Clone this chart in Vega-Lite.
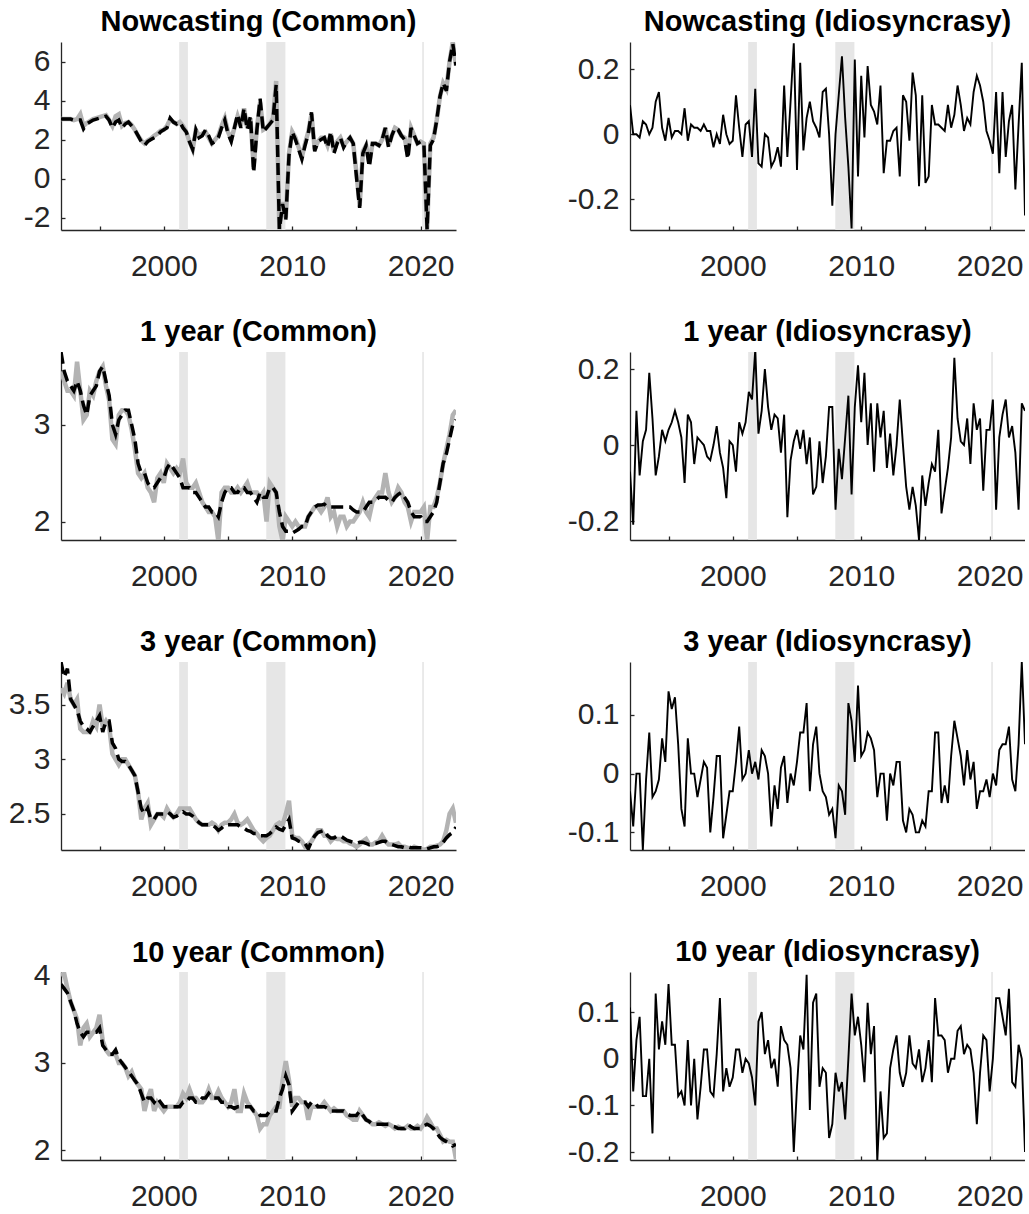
{
"$schema":"https://vega.github.io/schema/vega-lite/v6.json",
"background":"white",
"padding":{"left":5,"top":8,"right":0,"bottom":0},
"config":{
 "view":{"stroke":null},
 "font":"Liberation Sans",
 "axis":{"domainColor":"#262626","domainWidth":1.3,"tickColor":"#262626","tickWidth":1.3,"tickSize":-4,"labelColor":"#262626","labelFont":"Liberation Sans","labelFontSize":30,"grid":false,"labelFlush":false,"labelOverlap":false},
 "axisX":{"labelPadding":25},
 "axisY":{"labelPadding":15},
 "title":{"font":"Liberation Sans","fontSize":29,"fontWeight":"bold","color":"#000000","anchor":"middle","frame":"group","offset":5}
},
"datasets":{
"rec":[{"s":2001.2,"e":2001.88},{"s":2007.98,"e":2009.47},{"s":2020.12,"e":2020.25}],
"nc":[
{"t":1992,"g":3.05,"d":3.05,"i":0.09},{"t":1992.25,"g":3.05,"d":3.05,"i":0},{"t":1992.5,"g":3.05,"d":3.05,"i":0},{"t":1992.75,"g":3.05,"d":3.05,"i":-0.01},
{"t":1993,"g":3.0,"d":3.0,"i":0.04},{"t":1993.25,"g":3.05,"d":3.0,"i":0.03},{"t":1993.5,"g":3.3,"d":3.0,"i":0},{"t":1993.75,"g":2.7,"d":2.55,"i":0.02},
{"t":1994,"g":2.85,"d":2.8,"i":0.1},{"t":1994.25,"g":2.95,"d":2.9,"i":0.13},{"t":1994.5,"g":3.05,"d":3.0,"i":0.02},{"t":1994.75,"g":3.1,"d":3.05,"i":-0.02},
{"t":1995,"g":3.15,"d":3.1,"i":0.05},{"t":1995.25,"g":3.2,"d":3.15,"i":-0.01},{"t":1995.5,"g":3.25,"d":3.2,"i":0.01},{"t":1995.75,"g":3.0,"d":3.0,"i":0.01},
{"t":1996,"g":2.7,"d":2.6,"i":0},{"t":1996.25,"g":3.2,"d":2.9,"i":0.08},{"t":1996.5,"g":3.3,"d":3.0,"i":-0.02},{"t":1996.75,"g":2.7,"d":2.6,"i":0.03},
{"t":1997,"g":2.85,"d":2.8,"i":0.02},{"t":1997.25,"g":2.9,"d":2.9,"i":0.02},{"t":1997.5,"g":2.75,"d":2.7,"i":0.01},{"t":1997.75,"g":2.5,"d":2.5,"i":0.03},
{"t":1998,"g":2.2,"d":2.2,"i":0.01},{"t":1998.25,"g":1.95,"d":1.9,"i":0.01},{"t":1998.5,"g":1.8,"d":1.7,"i":-0.04},{"t":1998.75,"g":1.95,"d":1.9,"i":0},
{"t":1999,"g":2.05,"d":2.0,"i":-0.03},{"t":1999.25,"g":2.2,"d":2.1,"i":0.06},{"t":1999.5,"g":2.3,"d":2.2,"i":0},{"t":1999.75,"g":2.45,"d":2.4,"i":-0.03},
{"t":2000,"g":2.5,"d":2.5,"i":-0.02},{"t":2000.25,"g":2.7,"d":2.6,"i":0.12},{"t":2000.5,"g":3.05,"d":3.1,"i":0.02},{"t":2000.75,"g":2.9,"d":2.9,"i":-0.07},
{"t":2001,"g":2.8,"d":2.8,"i":0.03},{"t":2001.25,"g":2.9,"d":2.9,"i":0.04},{"t":2001.5,"g":2.7,"d":2.6,"i":-0.07},{"t":2001.75,"g":2.4,"d":2.4,"i":0.14},
{"t":2002,"g":1.9,"d":1.9,"i":-0.09},{"t":2002.25,"g":1.5,"d":1.5,"i":-0.1},{"t":2002.5,"g":2.5,"d":2.5,"i":0},{"t":2002.75,"g":2.2,"d":2.1,"i":-0.01},
{"t":2003,"g":2.3,"d":2.2,"i":-0.1},{"t":2003.25,"g":2.4,"d":2.5,"i":-0.08},{"t":2003.5,"g":2.1,"d":2.2,"i":-0.04},{"t":2003.75,"g":1.8,"d":1.8,"i":-0.1},
{"t":2004,"g":2.0,"d":1.9,"i":0.15},{"t":2004.25,"g":2.2,"d":2.1,"i":-0.07},{"t":2004.5,"g":2.7,"d":2.6,"i":0.1},{"t":2004.75,"g":3.1,"d":3.0,"i":0.28},
{"t":2005,"g":2.4,"d":2.3,"i":-0.11},{"t":2005.25,"g":2.0,"d":1.9,"i":0.22},{"t":2005.5,"g":2.6,"d":2.6,"i":-0.05},{"t":2005.75,"g":3.2,"d":3.3,"i":0.05},
{"t":2006,"g":2.7,"d":2.6,"i":0.1},{"t":2006.25,"g":3.6,"d":3.6,"i":0.04},{"t":2006.5,"g":2.6,"d":2.5,"i":0.02},{"t":2006.75,"g":3.1,"d":3.2,"i":-0.01},
{"t":2007,"g":0.6,"d":0.3,"i":0.13},{"t":2007.25,"g":2.6,"d":2.5,"i":0.14},{"t":2007.5,"g":3.9,"d":4.1,"i":0},{"t":2007.75,"g":2.5,"d":2.4,"i":-0.22},
{"t":2008,"g":2.6,"d":2.6,"i":0},{"t":2008.25,"g":2.8,"d":2.8,"i":0.12},{"t":2008.5,"g":3.1,"d":3.0,"i":0.24},{"t":2008.75,"g":5.0,"d":4.8,"i":0.05},
{"t":2009,"g":-2.6,"d":-2.6,"i":-0.1},{"t":2009.25,"g":-1.2,"d":-1.3,"i":-0.29},{"t":2009.5,"g":-2.0,"d":-2.1,"i":0.23},{"t":2009.75,"g":1.3,"d":1.2,"i":-0.13},
{"t":2010,"g":2.4,"d":2.4,"i":0.18},{"t":2010.25,"g":2.1,"d":2.0,"i":-0.01},{"t":2010.5,"g":1.6,"d":1.5,"i":0.21},{"t":2010.75,"g":1.1,"d":1.0,"i":0.09},
{"t":2011,"g":1.8,"d":1.7,"i":0.07},{"t":2011.25,"g":2.4,"d":2.3,"i":0.03},{"t":2011.5,"g":3.3,"d":3.4,"i":0.15},{"t":2011.75,"g":1.5,"d":1.4,"i":-0.12},
{"t":2012,"g":1.9,"d":1.9,"i":-0.02},{"t":2012.25,"g":2.1,"d":2.0,"i":-0.02},{"t":2012.5,"g":2.1,"d":2.1,"i":0.01},{"t":2012.75,"g":1.7,"d":1.6,"i":0.02},
{"t":2013,"g":2.3,"d":2.4,"i":-0.13},{"t":2013.25,"g":1.4,"d":1.3,"i":0.12},{"t":2013.5,"g":1.9,"d":1.8,"i":0.1},{"t":2013.75,"g":2.1,"d":2.1,"i":-0.02},
{"t":2014,"g":1.7,"d":1.6,"i":0.19},{"t":2014.25,"g":1.9,"d":1.9,"i":0.12},{"t":2014.5,"g":2.1,"d":2.1,"i":-0.16},{"t":2014.75,"g":1.8,"d":1.8,"i":0.12},
{"t":2015,"g":0.3,"d":0.1,"i":-0.15},{"t":2015.25,"g":-1.4,"d":-1.5,"i":-0.13},{"t":2015.5,"g":1.4,"d":1.3,"i":0.09},{"t":2015.75,"g":1.7,"d":1.7,"i":0.03},
{"t":2016,"g":0.8,"d":0.6,"i":0.03},{"t":2016.25,"g":1.8,"d":1.8,"i":0.02},{"t":2016.5,"g":1.8,"d":1.8,"i":0.01},{"t":2016.75,"g":1.7,"d":1.7,"i":0.09},
{"t":2017,"g":2.0,"d":2.0,"i":0.02},{"t":2017.25,"g":2.6,"d":2.6,"i":0.06},{"t":2017.5,"g":1.7,"d":1.6,"i":0.15},{"t":2017.75,"g":2.2,"d":2.2,"i":0.09},
{"t":2018,"g":2.6,"d":2.6,"i":0.01},{"t":2018.25,"g":2.5,"d":2.5,"i":0.05},{"t":2018.5,"g":2.2,"d":2.2,"i":0.03},{"t":2018.75,"g":2.1,"d":2.0,"i":0.13},
{"t":2019,"g":1.2,"d":1.0,"i":0.18},{"t":2019.25,"g":2.6,"d":2.6,"i":0.15},{"t":2019.5,"g":2.2,"d":2.2,"i":0.1},{"t":2019.75,"g":1.8,"d":1.8,"i":0.01},
{"t":2020,"g":1.9,"d":1.9,"i":-0.02},{"t":2020.25,"g":1.8,"d":1.8,"i":-0.06},{"t":2020.5,"g":-2.6,"d":-2.6,"i":0.13},{"t":2020.75,"g":1.8,"d":1.7,"i":-0.12},
{"t":2021,"g":2.1,"d":2.0,"i":0.13},{"t":2021.25,"g":3.0,"d":3.0,"i":-0.07},{"t":2021.5,"g":4.2,"d":4.2,"i":0.04},{"t":2021.75,"g":4.9,"d":4.9,"i":0.09},
{"t":2022,"g":4.6,"d":4.5,"i":-0.17},{"t":2022.25,"g":6.0,"d":6.0,"i":0.03},{"t":2022.5,"g":7.0,"d":6.9,"i":0.22},{"t":2022.75,"g":5.8,"d":5.8,"i":-0.25}
],
"y1":[
{"t":1992,"g":3.55,"d":3.75,"i":-0.07},{"t":1992.25,"g":3.45,"d":3.55,"i":-0.21},{"t":1992.5,"g":3.35,"d":3.45,"i":0.09},{"t":1992.75,"g":3.35,"d":3.4,"i":-0.08},
{"t":1993,"g":3.3,"d":3.35,"i":0.01},{"t":1993.25,"g":3.65,"d":3.45,"i":0.04},{"t":1993.5,"g":3.35,"d":3.35,"i":0.19},{"t":1993.75,"g":3.05,"d":3.2,"i":0.07},
{"t":1994,"g":3.1,"d":3.1,"i":-0.08},{"t":1994.25,"g":3.35,"d":3.3,"i":-0.03},{"t":1994.5,"g":3.3,"d":3.35,"i":0.04},{"t":1994.75,"g":3.45,"d":3.4,"i":0.01},
{"t":1995,"g":3.55,"d":3.55,"i":0.04},{"t":1995.25,"g":3.6,"d":3.6,"i":0.06},{"t":1995.5,"g":3.4,"d":3.45,"i":0.09},{"t":1995.75,"g":3.25,"d":3.3,"i":0.06},
{"t":1996,"g":2.85,"d":3.0,"i":0.02},{"t":1996.25,"g":2.8,"d":2.9,"i":-0.1},{"t":1996.5,"g":3.1,"d":3.05,"i":0.08},{"t":1996.75,"g":3.15,"d":3.1,"i":0.06},
{"t":1997,"g":3.15,"d":3.15,"i":-0.05},{"t":1997.25,"g":3.1,"d":3.15,"i":0.02},{"t":1997.5,"g":2.95,"d":3.0,"i":0.01},{"t":1997.75,"g":2.75,"d":2.85,"i":0},
{"t":1998,"g":2.5,"d":2.6,"i":-0.03},{"t":1998.25,"g":2.45,"d":2.5,"i":-0.04},{"t":1998.5,"g":2.5,"d":2.5,"i":0},{"t":1998.75,"g":2.35,"d":2.4,"i":0.05},
{"t":1999,"g":2.3,"d":2.35,"i":-0.02},{"t":1999.25,"g":2.2,"d":2.35,"i":-0.06},{"t":1999.5,"g":2.45,"d":2.4,"i":-0.14},{"t":1999.75,"g":2.5,"d":2.45,"i":0.01},
{"t":2000,"g":2.4,"d":2.45,"i":0},{"t":2000.25,"g":2.6,"d":2.55,"i":-0.07},{"t":2000.5,"g":2.55,"d":2.6,"i":0.06},{"t":2000.75,"g":2.5,"d":2.55,"i":0.03},
{"t":2001,"g":2.55,"d":2.5,"i":0.06},{"t":2001.25,"g":2.5,"d":2.45,"i":0.14},{"t":2001.5,"g":2.65,"d":2.35,"i":0.12},{"t":2001.75,"g":2.4,"d":2.35,"i":0.25},
{"t":2002,"g":2.35,"d":2.35,"i":0.03},{"t":2002.25,"g":2.35,"d":2.3,"i":0.09},{"t":2002.5,"g":2.4,"d":2.3,"i":0.2},{"t":2002.75,"g":2.3,"d":2.25,"i":0.1},
{"t":2003,"g":2.2,"d":2.2,"i":0.04},{"t":2003.25,"g":2.15,"d":2.15,"i":0.08},{"t":2003.5,"g":2.1,"d":2.15,"i":0.07},{"t":2003.75,"g":2.1,"d":2.1,"i":-0.02},
{"t":2004,"g":2.05,"d":2.1,"i":0.08},{"t":2004.25,"g":1.8,"d":2.05,"i":-0.19},{"t":2004.5,"g":2.3,"d":2.2,"i":-0.04},{"t":2004.75,"g":2.35,"d":2.3,"i":0.01},
{"t":2005,"g":2.35,"d":2.35,"i":0.04},{"t":2005.25,"g":2.3,"d":2.35,"i":-0.01},{"t":2005.5,"g":2.3,"d":2.3,"i":0.04},{"t":2005.75,"g":2.35,"d":2.3,"i":-0.05},
{"t":2006,"g":2.3,"d":2.35,"i":0.02},{"t":2006.25,"g":2.35,"d":2.35,"i":-0.13},{"t":2006.5,"g":2.4,"d":2.3,"i":-0.11},{"t":2006.75,"g":2.3,"d":2.3,"i":0.01},
{"t":2007,"g":2.3,"d":2.25,"i":-0.1},{"t":2007.25,"g":2.3,"d":2.2,"i":-0.03},{"t":2007.5,"g":2.25,"d":2.3,"i":0.1},{"t":2007.75,"g":2.3,"d":2.25,"i":0.1},
{"t":2008,"g":2.0,"d":2.25,"i":-0.17},{"t":2008.25,"g":2.4,"d":2.35,"i":-0.01},{"t":2008.5,"g":2.35,"d":2.35,"i":-0.09},{"t":2008.75,"g":2.3,"d":2.3,"i":0.02},
{"t":2009,"g":1.95,"d":2.1,"i":0.13},{"t":2009.25,"g":1.8,"d":1.95,"i":-0.13},{"t":2009.5,"g":2.05,"d":1.9,"i":0.1},{"t":2009.75,"g":2.0,"d":1.9,"i":0.21},
{"t":2010,"g":1.95,"d":1.88,"i":0.06},{"t":2010.25,"g":2.0,"d":1.9,"i":0.19},{"t":2010.5,"g":1.95,"d":1.92,"i":0},{"t":2010.75,"g":1.95,"d":1.95,"i":0.11},
{"t":2011,"g":1.95,"d":1.95,"i":-0.07},{"t":2011.25,"g":2.05,"d":2.05,"i":0.11},{"t":2011.5,"g":2.1,"d":2.1,"i":0.02},{"t":2011.75,"g":2.15,"d":2.15,"i":0.09},
{"t":2012,"g":2.15,"d":2.17,"i":-0.06},{"t":2012.25,"g":2.1,"d":2.17,"i":0.03},{"t":2012.5,"g":2.15,"d":2.18,"i":-0.08},{"t":2012.75,"g":2.25,"d":2.15,"i":0},
{"t":2013,"g":2.05,"d":2.15,"i":0.12},{"t":2013.25,"g":2.1,"d":2.15,"i":0},{"t":2013.5,"g":1.95,"d":2.15,"i":-0.11},{"t":2013.75,"g":2.05,"d":2.15,"i":-0.17},
{"t":2014,"g":2.05,"d":2.15,"i":-0.11},{"t":2014.25,"g":1.95,"d":2.15,"i":-0.16},{"t":2014.5,"g":2.0,"d":2.15,"i":-0.25},{"t":2014.75,"g":2.0,"d":2.12,"i":-0.08},
{"t":2015,"g":2.05,"d":2.1,"i":-0.16},{"t":2015.25,"g":2.1,"d":2.1,"i":-0.1},{"t":2015.5,"g":2.2,"d":2.1,"i":-0.05},{"t":2015.75,"g":2.1,"d":2.15,"i":-0.07},
{"t":2016,"g":2.05,"d":2.2,"i":0.04},{"t":2016.25,"g":2.2,"d":2.2,"i":-0.18},{"t":2016.5,"g":2.25,"d":2.22,"i":-0.12},{"t":2016.75,"g":2.3,"d":2.25,"i":-0.06},
{"t":2017,"g":2.3,"d":2.25,"i":0.02},{"t":2017.25,"g":2.5,"d":2.25,"i":0.23},{"t":2017.5,"g":2.3,"d":2.22,"i":0.07},{"t":2017.75,"g":2.2,"d":2.2,"i":0.01},
{"t":2018,"g":2.25,"d":2.25,"i":0},{"t":2018.25,"g":2.35,"d":2.28,"i":0.07},{"t":2018.5,"g":2.3,"d":2.3,"i":-0.05},{"t":2018.75,"g":2.2,"d":2.25,"i":0.11},
{"t":2019,"g":2.15,"d":2.2,"i":0.04},{"t":2019.25,"g":2.0,"d":2.1,"i":0.07},{"t":2019.5,"g":2.1,"d":2.05,"i":-0.12},{"t":2019.75,"g":2.1,"d":2.05,"i":0.04},
{"t":2020,"g":2.1,"d":2.05,"i":0.04},{"t":2020.25,"g":2.15,"d":2.0,"i":0.12},{"t":2020.5,"g":1.8,"d":2.0,"i":-0.17},{"t":2020.75,"g":2.15,"d":2.05,"i":0.02},
{"t":2021,"g":2.15,"d":2.1,"i":0.08},{"t":2021.25,"g":2.25,"d":2.2,"i":0.12},{"t":2021.5,"g":2.4,"d":2.4,"i":0.02},{"t":2021.75,"g":2.6,"d":2.6,"i":0.05},
{"t":2022,"g":2.75,"d":2.7,"i":-0.02},{"t":2022.25,"g":2.9,"d":2.85,"i":-0.17},{"t":2022.5,"g":3.1,"d":3.0,"i":0.11},{"t":2022.75,"g":3.15,"d":3.05,"i":0.09}
],
"y3":[
{"t":1992,"g":3.65,"d":3.89,"i":-0.03},{"t":1992.25,"g":3.6,"d":3.75,"i":-0.09},{"t":1992.5,"g":3.7,"d":3.83,"i":0},{"t":1992.75,"g":3.55,"d":3.55,"i":0},
{"t":1993,"g":3.5,"d":3.5,"i":-0.13},{"t":1993.25,"g":3.55,"d":3.45,"i":-0.01},{"t":1993.5,"g":3.28,"d":3.35,"i":0.07},{"t":1993.75,"g":3.25,"d":3.3,"i":-0.04},
{"t":1994,"g":3.25,"d":3.28,"i":-0.03},{"t":1994.25,"g":3.25,"d":3.25,"i":-0.01},{"t":1994.5,"g":3.35,"d":3.3,"i":0.06},{"t":1994.75,"g":3.3,"d":3.35,"i":0.02},
{"t":1995,"g":3.5,"d":3.4,"i":0.14},{"t":1995.25,"g":3.3,"d":3.25,"i":0.11},{"t":1995.5,"g":3.35,"d":3.35,"i":0.13},{"t":1995.75,"g":3.3,"d":3.35,"i":0.05},
{"t":1996,"g":3.05,"d":3.15,"i":-0.06},{"t":1996.25,"g":3.0,"d":3.1,"i":-0.09},{"t":1996.5,"g":2.95,"d":3.0,"i":0.06},{"t":1996.75,"g":3.0,"d":2.98,"i":0},
{"t":1997,"g":3.0,"d":2.98,"i":0},{"t":1997.25,"g":2.95,"d":2.95,"i":-0.04},{"t":1997.5,"g":2.9,"d":2.9,"i":-0.01},{"t":1997.75,"g":2.85,"d":2.85,"i":0.02},
{"t":1998,"g":2.7,"d":2.7,"i":0.01},{"t":1998.25,"g":2.45,"d":2.55,"i":-0.1},{"t":1998.5,"g":2.55,"d":2.5,"i":-0.04},{"t":1998.75,"g":2.6,"d":2.55,"i":0.03},
{"t":1999,"g":2.4,"d":2.45,"i":0.03},{"t":1999.25,"g":2.45,"d":2.45,"i":-0.11},{"t":1999.5,"g":2.5,"d":2.5,"i":-0.07},{"t":1999.75,"g":2.5,"d":2.5,"i":-0.03},
{"t":2000,"g":2.47,"d":2.5,"i":-0.03},{"t":2000.25,"g":2.55,"d":2.52,"i":0.02},{"t":2000.5,"g":2.5,"d":2.5,"i":0.08},{"t":2000.75,"g":2.47,"d":2.47,"i":-0.01},
{"t":2001,"g":2.5,"d":2.48,"i":0},{"t":2001.25,"g":2.55,"d":2.5,"i":0.04},{"t":2001.5,"g":2.55,"d":2.52,"i":0},{"t":2001.75,"g":2.55,"d":2.5,"i":0.02},
{"t":2002,"g":2.55,"d":2.5,"i":-0.01},{"t":2002.25,"g":2.5,"d":2.48,"i":0.04},{"t":2002.5,"g":2.45,"d":2.45,"i":0.03},{"t":2002.75,"g":2.42,"d":2.42,"i":0},
{"t":2003,"g":2.4,"d":2.4,"i":-0.09},{"t":2003.25,"g":2.4,"d":2.4,"i":-0.02},{"t":2003.5,"g":2.4,"d":2.4,"i":-0.06},{"t":2003.75,"g":2.42,"d":2.4,"i":0.01},
{"t":2004,"g":2.4,"d":2.38,"i":0.03},{"t":2004.25,"g":2.35,"d":2.35,"i":-0.05},{"t":2004.5,"g":2.4,"d":2.37,"i":0},{"t":2004.75,"g":2.42,"d":2.4,"i":-0.02},
{"t":2005,"g":2.42,"d":2.4,"i":0.02},{"t":2005.25,"g":2.45,"d":2.4,"i":0.07},{"t":2005.5,"g":2.5,"d":2.4,"i":0.07},{"t":2005.75,"g":2.42,"d":2.4,"i":0.12},
{"t":2006,"g":2.4,"d":2.38,"i":-0.03},{"t":2006.25,"g":2.42,"d":2.37,"i":0.05},{"t":2006.5,"g":2.45,"d":2.35,"i":0.08},{"t":2006.75,"g":2.4,"d":2.34,"i":0},
{"t":2007,"g":2.35,"d":2.32,"i":-0.03},{"t":2007.25,"g":2.32,"d":2.32,"i":-0.04},{"t":2007.5,"g":2.28,"d":2.3,"i":-0.07},{"t":2007.75,"g":2.25,"d":2.3,"i":-0.06},
{"t":2008,"g":2.28,"d":2.3,"i":-0.11},{"t":2008.25,"g":2.3,"d":2.32,"i":-0.02},{"t":2008.5,"g":2.35,"d":2.35,"i":-0.03},{"t":2008.75,"g":2.4,"d":2.38,"i":-0.07},
{"t":2009,"g":2.42,"d":2.36,"i":0.12},{"t":2009.25,"g":2.4,"d":2.35,"i":0.09},{"t":2009.5,"g":2.5,"d":2.4,"i":0.02},{"t":2009.75,"g":2.62,"d":2.45,"i":0.15},
{"t":2010,"g":2.3,"d":2.28,"i":0.03},{"t":2010.25,"g":2.28,"d":2.27,"i":0.04},{"t":2010.5,"g":2.28,"d":2.25,"i":0.07},{"t":2010.75,"g":2.25,"d":2.24,"i":0.06},
{"t":2011,"g":2.2,"d":2.23,"i":0.04},{"t":2011.25,"g":2.22,"d":2.18,"i":-0.04},{"t":2011.5,"g":2.25,"d":2.25,"i":0},{"t":2011.75,"g":2.3,"d":2.3,"i":0},
{"t":2012,"g":2.35,"d":2.33,"i":-0.08},{"t":2012.25,"g":2.35,"d":2.34,"i":0},{"t":2012.5,"g":2.3,"d":2.35,"i":-0.02},{"t":2012.75,"g":2.3,"d":2.3,"i":0.02},
{"t":2013,"g":2.25,"d":2.28,"i":0.02},{"t":2013.25,"g":2.28,"d":2.28,"i":-0.08},{"t":2013.5,"g":2.27,"d":2.3,"i":-0.1},{"t":2013.75,"g":2.27,"d":2.3,"i":-0.06},
{"t":2014,"g":2.25,"d":2.28,"i":-0.07},{"t":2014.25,"g":2.25,"d":2.26,"i":-0.1},{"t":2014.5,"g":2.23,"d":2.25,"i":-0.1},{"t":2014.75,"g":2.22,"d":2.24,"i":-0.08},
{"t":2015,"g":2.2,"d":2.23,"i":-0.09},{"t":2015.25,"g":2.22,"d":2.24,"i":-0.03},{"t":2015.5,"g":2.25,"d":2.24,"i":-0.03},{"t":2015.75,"g":2.27,"d":2.23,"i":0.07},
{"t":2016,"g":2.22,"d":2.22,"i":0.07},{"t":2016.25,"g":2.22,"d":2.23,"i":-0.05},{"t":2016.5,"g":2.24,"d":2.23,"i":-0.02},{"t":2016.75,"g":2.25,"d":2.24,"i":-0.05},
{"t":2017,"g":2.3,"d":2.25,"i":0.03},{"t":2017.25,"g":2.25,"d":2.25,"i":0.09},{"t":2017.5,"g":2.22,"d":2.23,"i":0.06},{"t":2017.75,"g":2.22,"d":2.22,"i":0.03},
{"t":2018,"g":2.22,"d":2.21,"i":-0.02},{"t":2018.25,"g":2.23,"d":2.2,"i":0.04},{"t":2018.5,"g":2.2,"d":2.2,"i":-0.01},{"t":2018.75,"g":2.2,"d":2.19,"i":0.02},
{"t":2019,"g":2.19,"d":2.2,"i":-0.06},{"t":2019.25,"g":2.18,"d":2.19,"i":-0.03},{"t":2019.5,"g":2.2,"d":2.19,"i":-0.03},{"t":2019.75,"g":2.19,"d":2.19,"i":-0.01},
{"t":2020,"g":2.18,"d":2.19,"i":-0.04},{"t":2020.25,"g":2.17,"d":2.19,"i":0},{"t":2020.5,"g":2.18,"d":2.18,"i":-0.02},{"t":2020.75,"g":2.2,"d":2.19,"i":0.04},
{"t":2021,"g":2.2,"d":2.2,"i":0.05},{"t":2021.25,"g":2.21,"d":2.2,"i":0.05},{"t":2021.5,"g":2.22,"d":2.21,"i":0.08},{"t":2021.75,"g":2.25,"d":2.24,"i":-0.01},
{"t":2022,"g":2.35,"d":2.28,"i":-0.03},{"t":2022.25,"g":2.5,"d":2.31,"i":0.05},{"t":2022.5,"g":2.55,"d":2.33,"i":0.19},{"t":2022.75,"g":2.42,"d":2.38,"i":0.05}
],
"y10":[
{"t":1992,"g":4.0,"d":3.9,"i":0.11},{"t":1992.25,"g":4.02,"d":3.85,"i":-0.07},{"t":1992.5,"g":3.85,"d":3.8,"i":0.04},{"t":1992.75,"g":3.7,"d":3.7,"i":0.09},
{"t":1993,"g":3.6,"d":3.6,"i":-0.08},{"t":1993.25,"g":3.5,"d":3.45,"i":-0.08},{"t":1993.5,"g":3.2,"d":3.35,"i":0},{"t":1993.75,"g":3.4,"d":3.3,"i":-0.16},
{"t":1994,"g":3.45,"d":3.35,"i":0.14},{"t":1994.25,"g":3.3,"d":3.35,"i":0.02},{"t":1994.5,"g":3.35,"d":3.35,"i":0.08},{"t":1994.75,"g":3.4,"d":3.35,"i":0.03},
{"t":1995,"g":3.55,"d":3.4,"i":0.16},{"t":1995.25,"g":3.25,"d":3.2,"i":0.03},{"t":1995.5,"g":3.15,"d":3.15,"i":0.03},{"t":1995.75,"g":3.1,"d":3.1,"i":-0.08},
{"t":1996,"g":3.1,"d":3.1,"i":-0.07},{"t":1996.25,"g":3.1,"d":3.15,"i":-0.1},{"t":1996.5,"g":3.0,"d":3.05,"i":0.04},{"t":1996.75,"g":3.0,"d":3.0,"i":-0.1},
{"t":1997,"g":2.95,"d":2.95,"i":0},{"t":1997.25,"g":2.85,"d":2.9,"i":-0.13},{"t":1997.5,"g":2.9,"d":2.85,"i":-0.06},{"t":1997.75,"g":2.8,"d":2.8,"i":0.02},
{"t":1998,"g":2.75,"d":2.75,"i":0.02},{"t":1998.25,"g":2.7,"d":2.65,"i":-0.07},{"t":1998.5,"g":2.45,"d":2.55,"i":-0.08},{"t":1998.75,"g":2.6,"d":2.6,"i":0.01},
{"t":1999,"g":2.7,"d":2.6,"i":0.13},{"t":1999.25,"g":2.45,"d":2.55,"i":-0.07},{"t":1999.5,"g":2.55,"d":2.6,"i":-0.02},{"t":1999.75,"g":2.5,"d":2.55,"i":-0.06},
{"t":2000,"g":2.45,"d":2.5,"i":-0.04},{"t":2000.25,"g":2.5,"d":2.5,"i":0.02},{"t":2000.5,"g":2.5,"d":2.5,"i":0.02},{"t":2000.75,"g":2.5,"d":2.5,"i":-0.03},
{"t":2001,"g":2.5,"d":2.5,"i":0},{"t":2001.25,"g":2.55,"d":2.5,"i":-0.01},{"t":2001.5,"g":2.65,"d":2.55,"i":-0.04},{"t":2001.75,"g":2.6,"d":2.55,"i":-0.1},
{"t":2002,"g":2.7,"d":2.6,"i":0.08},{"t":2002.25,"g":2.6,"d":2.6,"i":0.1},{"t":2002.5,"g":2.6,"d":2.55,"i":0.01},{"t":2002.75,"g":2.55,"d":2.55,"i":0.04},
{"t":2003,"g":2.55,"d":2.6,"i":-0.02},{"t":2003.25,"g":2.6,"d":2.6,"i":0},{"t":2003.5,"g":2.7,"d":2.65,"i":-0.06},{"t":2003.75,"g":2.6,"d":2.6,"i":0.07},
{"t":2004,"g":2.6,"d":2.6,"i":0.04},{"t":2004.25,"g":2.68,"d":2.6,"i":0.03},{"t":2004.5,"g":2.6,"d":2.55,"i":-0.02},{"t":2004.75,"g":2.55,"d":2.55,"i":-0.2},
{"t":2005,"g":2.5,"d":2.5,"i":-0.06},{"t":2005.25,"g":2.55,"d":2.5,"i":0.05},{"t":2005.5,"g":2.7,"d":2.48,"i":0.02},{"t":2005.75,"g":2.45,"d":2.5,"i":0.18},
{"t":2006,"g":2.45,"d":2.5,"i":-0.11},{"t":2006.25,"g":2.65,"d":2.5,"i":0.12},{"t":2006.5,"g":2.55,"d":2.5,"i":0.14},{"t":2006.75,"g":2.5,"d":2.5,"i":-0.06},
{"t":2007,"g":2.45,"d":2.45,"i":-0.02},{"t":2007.25,"g":2.4,"d":2.45,"i":-0.03},{"t":2007.5,"g":2.25,"d":2.4,"i":-0.17},{"t":2007.75,"g":2.3,"d":2.4,"i":-0.14},
{"t":2008,"g":2.3,"d":2.4,"i":-0.03},{"t":2008.25,"g":2.4,"d":2.45,"i":-0.07},{"t":2008.5,"g":2.45,"d":2.45,"i":-0.05},{"t":2008.75,"g":2.5,"d":2.45,"i":-0.13},
{"t":2009,"g":2.5,"d":2.6,"i":0},{"t":2009.25,"g":2.8,"d":2.7,"i":0.14},{"t":2009.5,"g":3.02,"d":2.85,"i":0.05},{"t":2009.75,"g":2.8,"d":2.75,"i":0.09},
{"t":2010,"g":2.5,"d":2.45,"i":0.03},{"t":2010.25,"g":2.6,"d":2.5,"i":-0.05},{"t":2010.5,"g":2.6,"d":2.55,"i":0.12},{"t":2010.75,"g":2.55,"d":2.55,"i":0.01},
{"t":2011,"g":2.55,"d":2.55,"i":0.07},{"t":2011.25,"g":2.35,"d":2.5,"i":-0.22},{"t":2011.5,"g":2.5,"d":2.55,"i":-0.07},{"t":2011.75,"g":2.5,"d":2.55,"i":-0.17},
{"t":2012,"g":2.5,"d":2.5,"i":-0.16},{"t":2012.25,"g":2.5,"d":2.5,"i":-0.02},{"t":2012.5,"g":2.55,"d":2.5,"i":0.02},{"t":2012.75,"g":2.5,"d":2.48,"i":0.05},
{"t":2013,"g":2.45,"d":2.45,"i":-0.03},{"t":2013.25,"g":2.48,"d":2.45,"i":-0.06},{"t":2013.5,"g":2.45,"d":2.45,"i":-0.03},{"t":2013.75,"g":2.45,"d":2.45,"i":0.05},
{"t":2014,"g":2.45,"d":2.45,"i":-0.01},{"t":2014.25,"g":2.4,"d":2.42,"i":-0.02},{"t":2014.5,"g":2.38,"d":2.4,"i":0.02},{"t":2014.75,"g":2.35,"d":2.4,"i":-0.05},
{"t":2015,"g":2.35,"d":2.4,"i":-0.02},{"t":2015.25,"g":2.45,"d":2.45,"i":0.04},{"t":2015.5,"g":2.4,"d":2.4,"i":-0.05},{"t":2015.75,"g":2.35,"d":2.35,"i":0.13},
{"t":2016,"g":2.33,"d":2.33,"i":0.05},{"t":2016.25,"g":2.3,"d":2.3,"i":0.05},{"t":2016.5,"g":2.3,"d":2.3,"i":0.04},{"t":2016.75,"g":2.32,"d":2.3,"i":-0.03},
{"t":2017,"g":2.3,"d":2.3,"i":0},{"t":2017.25,"g":2.28,"d":2.3,"i":0},{"t":2017.5,"g":2.3,"d":2.3,"i":0.06},{"t":2017.75,"g":2.28,"d":2.28,"i":0.07},
{"t":2018,"g":2.25,"d":2.27,"i":0.01},{"t":2018.25,"g":2.27,"d":2.25,"i":0.03},{"t":2018.5,"g":2.25,"d":2.25,"i":0.02},{"t":2018.75,"g":2.25,"d":2.25,"i":-0.03},
{"t":2019,"g":2.28,"d":2.3,"i":-0.14},{"t":2019.25,"g":2.25,"d":2.27,"i":-0.03},{"t":2019.5,"g":2.25,"d":2.25,"i":0.05},{"t":2019.75,"g":2.28,"d":2.25,"i":0.04},
{"t":2020,"g":2.25,"d":2.25,"i":-0.07},{"t":2020.25,"g":2.3,"d":2.28,"i":0},{"t":2020.5,"g":2.38,"d":2.3,"i":0.13},{"t":2020.75,"g":2.32,"d":2.28,"i":0.13},
{"t":2021,"g":2.25,"d":2.25,"i":0.09},{"t":2021.25,"g":2.25,"d":2.2,"i":0.05},{"t":2021.5,"g":2.18,"d":2.15,"i":0.15},{"t":2021.75,"g":2.1,"d":2.12,"i":-0.05},
{"t":2022,"g":2.12,"d":2.1,"i":-0.06},{"t":2022.25,"g":2.1,"d":2.08,"i":0.03},{"t":2022.5,"g":2.1,"d":2.05,"i":0},{"t":2022.75,"g":1.9,"d":2.07,"i":-0.2}
]
},
"spacing":37,
"vconcat":[
{"spacing":108,"hconcat":[
 {"width":395,"height":188,"title":"Nowcasting (Common)","layer":[
  {"data":{"name":"rec"},"mark":{"type":"rect","color":"#e6e6e6"},"encoding":{"x":{"field":"s","type":"quantitative","scale":{"domain":[1992,2022.75],"nice":false,"zero":false},"axis":{"values":[1995,2000,2005,2010,2015,2020],"format":"d","labelExpr":"datum.value % 10 === 0 ? datum.label : ''","title":null}},"x2":{"field":"e"}}},
  {"data":{"name":"nc"},"mark":{"type":"line","color":"#b3b3b3","strokeWidth":4.5,"clip":true},"encoding":{"x":{"field":"t","type":"quantitative","title":null},"y":{"field":"g","type":"quantitative","scale":{"domain":[-2.63,7],"nice":false,"zero":false},"axis":{"values":[-2,0,2,4,6],"title":null,"minExtent":56,"labelExpr":"datum.value < 0 ? '-' + format(-datum.value, '~g') : format(datum.value, '~g')"}}}},
  {"data":{"name":"nc"},"mark":{"type":"line","color":"#000000","strokeWidth":3.5,"strokeDash":[12,6],"clip":true},"encoding":{"x":{"field":"t","type":"quantitative","title":null},"y":{"field":"d","type":"quantitative","title":null}}}
 ]},
 {"width":395,"height":188,"title":"Nowcasting (Idiosyncrasy)","layer":[
  {"data":{"name":"rec"},"mark":{"type":"rect","color":"#e6e6e6"},"encoding":{"x":{"field":"s","type":"quantitative","scale":{"domain":[1992,2022.75],"nice":false,"zero":false},"axis":{"values":[1995,2000,2005,2010,2015,2020],"format":"d","labelExpr":"datum.value % 10 === 0 ? datum.label : ''","title":null}},"x2":{"field":"e"}}},
  {"data":{"name":"nc"},"mark":{"type":"line","color":"#000000","strokeWidth":1.9,"clip":true},"encoding":{"x":{"field":"t","type":"quantitative","title":null},"y":{"field":"i","type":"quantitative","scale":{"domain":[-0.295,0.284],"nice":false,"zero":false},"axis":{"values":[-0.2,0,0.2],"title":null,"minExtent":66,"labelExpr":"datum.value < 0 ? '-' + format(-datum.value, '~g') : format(datum.value, '~g')"}}}}
 ]}
]},
{"spacing":108,"hconcat":[
 {"width":395,"height":188,"title":"1 year (Common)","layer":[
  {"data":{"name":"rec"},"mark":{"type":"rect","color":"#e6e6e6"},"encoding":{"x":{"field":"s","type":"quantitative","scale":{"domain":[1992,2022.75],"nice":false,"zero":false},"axis":{"values":[1995,2000,2005,2010,2015,2020],"format":"d","labelExpr":"datum.value % 10 === 0 ? datum.label : ''","title":null}},"x2":{"field":"e"}}},
  {"data":{"name":"y1"},"mark":{"type":"line","color":"#b3b3b3","strokeWidth":4.5,"clip":true},"encoding":{"x":{"field":"t","type":"quantitative","title":null},"y":{"field":"g","type":"quantitative","scale":{"domain":[1.81,3.75],"nice":false,"zero":false},"axis":{"values":[2,3],"title":null,"minExtent":56,"labelExpr":"datum.value < 0 ? '-' + format(-datum.value, '~g') : format(datum.value, '~g')"}}}},
  {"data":{"name":"y1"},"mark":{"type":"line","color":"#000000","strokeWidth":3.5,"strokeDash":[12,6],"clip":true},"encoding":{"x":{"field":"t","type":"quantitative","title":null},"y":{"field":"d","type":"quantitative","title":null}}}
 ]},
 {"width":395,"height":188,"title":"1 year (Idiosyncrasy)","layer":[
  {"data":{"name":"rec"},"mark":{"type":"rect","color":"#e6e6e6"},"encoding":{"x":{"field":"s","type":"quantitative","scale":{"domain":[1992,2022.75],"nice":false,"zero":false},"axis":{"values":[1995,2000,2005,2010,2015,2020],"format":"d","labelExpr":"datum.value % 10 === 0 ? datum.label : ''","title":null}},"x2":{"field":"e"}}},
  {"data":{"name":"y1"},"mark":{"type":"line","color":"#000000","strokeWidth":1.9,"clip":true},"encoding":{"x":{"field":"t","type":"quantitative","title":null},"y":{"field":"i","type":"quantitative","scale":{"domain":[-0.25,0.245],"nice":false,"zero":false},"axis":{"values":[-0.2,0,0.2],"title":null,"minExtent":66,"labelExpr":"datum.value < 0 ? '-' + format(-datum.value, '~g') : format(datum.value, '~g')"}}}}
 ]}
]},
{"spacing":108,"hconcat":[
 {"width":395,"height":188,"title":"3 year (Common)","layer":[
  {"data":{"name":"rec"},"mark":{"type":"rect","color":"#e6e6e6"},"encoding":{"x":{"field":"s","type":"quantitative","scale":{"domain":[1992,2022.75],"nice":false,"zero":false},"axis":{"values":[1995,2000,2005,2010,2015,2020],"format":"d","labelExpr":"datum.value % 10 === 0 ? datum.label : ''","title":null}},"x2":{"field":"e"}}},
  {"data":{"name":"y3"},"mark":{"type":"line","color":"#b3b3b3","strokeWidth":4.5,"clip":true},"encoding":{"x":{"field":"t","type":"quantitative","title":null},"y":{"field":"g","type":"quantitative","scale":{"domain":[2.17,3.89],"nice":false,"zero":false},"axis":{"values":[2.5,3,3.5],"title":null,"minExtent":56,"labelExpr":"datum.value < 0 ? '-' + format(-datum.value, '~g') : format(datum.value, '~g')"}}}},
  {"data":{"name":"y3"},"mark":{"type":"line","color":"#000000","strokeWidth":3.5,"strokeDash":[12,6],"clip":true},"encoding":{"x":{"field":"t","type":"quantitative","title":null},"y":{"field":"d","type":"quantitative","title":null}}}
 ]},
 {"width":395,"height":188,"title":"3 year (Idiosyncrasy)","layer":[
  {"data":{"name":"rec"},"mark":{"type":"rect","color":"#e6e6e6"},"encoding":{"x":{"field":"s","type":"quantitative","scale":{"domain":[1992,2022.75],"nice":false,"zero":false},"axis":{"values":[1995,2000,2005,2010,2015,2020],"format":"d","labelExpr":"datum.value % 10 === 0 ? datum.label : ''","title":null}},"x2":{"field":"e"}}},
  {"data":{"name":"y3"},"mark":{"type":"line","color":"#000000","strokeWidth":1.9,"clip":true},"encoding":{"x":{"field":"t","type":"quantitative","title":null},"y":{"field":"i","type":"quantitative","scale":{"domain":[-0.13,0.19],"nice":false,"zero":false},"axis":{"values":[-0.1,0,0.1],"title":null,"minExtent":66,"labelExpr":"datum.value < 0 ? '-' + format(-datum.value, '~g') : format(datum.value, '~g')"}}}}
 ]}
]},
{"spacing":108,"hconcat":[
 {"width":395,"height":188,"title":{"text":"10 year (Common)","offset":-8},"layer":[
  {"data":{"name":"rec"},"mark":{"type":"rect","color":"#e6e6e6"},"encoding":{"x":{"field":"s","type":"quantitative","scale":{"domain":[1992,2022.75],"nice":false,"zero":false},"axis":{"values":[1995,2000,2005,2010,2015,2020],"format":"d","labelExpr":"datum.value % 10 === 0 ? datum.label : ''","title":null}},"x2":{"field":"e"}}},
  {"data":{"name":"y10"},"mark":{"type":"line","color":"#b3b3b3","strokeWidth":4.5,"clip":true},"encoding":{"x":{"field":"t","type":"quantitative","title":null},"y":{"field":"g","type":"quantitative","scale":{"domain":[1.89,4.04],"nice":false,"zero":false},"axis":{"values":[2,3,4],"title":null,"minExtent":56,"labelExpr":"datum.value < 0 ? '-' + format(-datum.value, '~g') : format(datum.value, '~g')"}}}},
  {"data":{"name":"y10"},"mark":{"type":"line","color":"#000000","strokeWidth":3.5,"strokeDash":[12,6],"clip":true},"encoding":{"x":{"field":"t","type":"quantitative","title":null},"y":{"field":"d","type":"quantitative","title":null}}}
 ]},
 {"width":395,"height":188,"title":"10 year (Idiosyncrasy)","layer":[
  {"data":{"name":"rec"},"mark":{"type":"rect","color":"#e6e6e6"},"encoding":{"x":{"field":"s","type":"quantitative","scale":{"domain":[1992,2022.75],"nice":false,"zero":false},"axis":{"values":[1995,2000,2005,2010,2015,2020],"format":"d","labelExpr":"datum.value % 10 === 0 ? datum.label : ''","title":null}},"x2":{"field":"e"}}},
  {"data":{"name":"y10"},"mark":{"type":"line","color":"#000000","strokeWidth":1.9,"clip":true},"encoding":{"x":{"field":"t","type":"quantitative","title":null},"y":{"field":"i","type":"quantitative","scale":{"domain":[-0.217,0.186],"nice":false,"zero":false},"axis":{"values":[-0.2,-0.1,0,0.1],"title":null,"minExtent":66,"labelExpr":"datum.value < 0 ? '-' + format(-datum.value, '~g') : format(datum.value, '~g')"}}}}
 ]}
]}
]
}
